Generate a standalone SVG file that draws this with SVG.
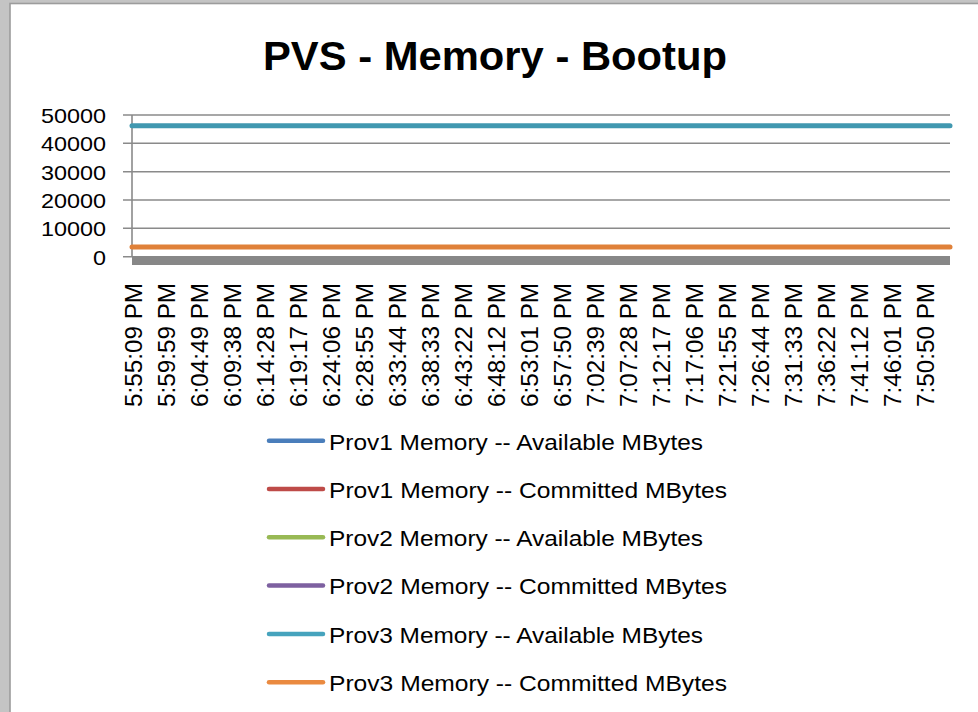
<svg xmlns="http://www.w3.org/2000/svg" width="978" height="712" viewBox="0 0 978 712">
<style>
.t{font-family:"Liberation Sans",Arial,sans-serif;fill:#000}
.ttl{font-size:41px;font-weight:bold}
.yl{font-size:21px;text-anchor:end}
.xl{font-size:23px;text-anchor:end}
.lg{font-size:21.5px}
.grid{stroke:#8a8a8a;stroke-width:1.6;fill:none}
.ser{fill:none;stroke-width:5;stroke-linecap:round}
.leg{fill:none;stroke-width:4.5;stroke-linecap:round}
</style>
<rect x="0" y="0" width="978" height="712" fill="#c4c4c4"/>
<rect x="10" y="3.5" width="990" height="730" fill="#ffffff" stroke="#9c9c9c" stroke-width="1.6"/>
<g id="title"><text class="t ttl" x="495" y="70" text-anchor="middle" textLength="464" lengthAdjust="spacingAndGlyphs">PVS - Memory - Bootup</text></g>
<g id="y-axis">
<path class="grid" d="M123 115H950M123 143.3H950M123 171.7H950M123 200H950M123 228.3H950M123 256.7H950M132 115V257"/>
<text class="t yl" x="106" y="123" textLength="65" lengthAdjust="spacingAndGlyphs">50000</text>
<text class="t yl" x="106" y="151.3" textLength="65" lengthAdjust="spacingAndGlyphs">40000</text>
<text class="t yl" x="106" y="179.7" textLength="65" lengthAdjust="spacingAndGlyphs">30000</text>
<text class="t yl" x="106" y="208" textLength="65" lengthAdjust="spacingAndGlyphs">20000</text>
<text class="t yl" x="106" y="236.3" textLength="65" lengthAdjust="spacingAndGlyphs">10000</text>
<text class="t yl" x="106" y="264.7" textLength="13" lengthAdjust="spacingAndGlyphs">0</text>
</g>
<g id="series">
<path class="ser" stroke="#4198b0" d="M132 125.7H950"/>
<path class="ser" stroke="#e08139" d="M132 247H950"/>
<rect x="132" y="256" width="818" height="9" fill="#878787"/>
</g>
<g id="x-axis">
<text class="t xl" transform="translate(141.5,283) rotate(-90)" textLength="124" lengthAdjust="spacingAndGlyphs">5:55:09 PM</text>
<text class="t xl" transform="translate(174.5,283) rotate(-90)" textLength="124" lengthAdjust="spacingAndGlyphs">5:59:59 PM</text>
<text class="t xl" transform="translate(207.5,283) rotate(-90)" textLength="124" lengthAdjust="spacingAndGlyphs">6:04:49 PM</text>
<text class="t xl" transform="translate(240.5,283) rotate(-90)" textLength="124" lengthAdjust="spacingAndGlyphs">6:09:38 PM</text>
<text class="t xl" transform="translate(273.5,283) rotate(-90)" textLength="124" lengthAdjust="spacingAndGlyphs">6:14:28 PM</text>
<text class="t xl" transform="translate(306.5,283) rotate(-90)" textLength="124" lengthAdjust="spacingAndGlyphs">6:19:17 PM</text>
<text class="t xl" transform="translate(339.5,283) rotate(-90)" textLength="124" lengthAdjust="spacingAndGlyphs">6:24:06 PM</text>
<text class="t xl" transform="translate(372.5,283) rotate(-90)" textLength="124" lengthAdjust="spacingAndGlyphs">6:28:55 PM</text>
<text class="t xl" transform="translate(405.5,283) rotate(-90)" textLength="124" lengthAdjust="spacingAndGlyphs">6:33:44 PM</text>
<text class="t xl" transform="translate(438.5,283) rotate(-90)" textLength="124" lengthAdjust="spacingAndGlyphs">6:38:33 PM</text>
<text class="t xl" transform="translate(471.5,283) rotate(-90)" textLength="124" lengthAdjust="spacingAndGlyphs">6:43:22 PM</text>
<text class="t xl" transform="translate(504.5,283) rotate(-90)" textLength="124" lengthAdjust="spacingAndGlyphs">6:48:12 PM</text>
<text class="t xl" transform="translate(537.5,283) rotate(-90)" textLength="124" lengthAdjust="spacingAndGlyphs">6:53:01 PM</text>
<text class="t xl" transform="translate(570.5,283) rotate(-90)" textLength="124" lengthAdjust="spacingAndGlyphs">6:57:50 PM</text>
<text class="t xl" transform="translate(603.5,283) rotate(-90)" textLength="124" lengthAdjust="spacingAndGlyphs">7:02:39 PM</text>
<text class="t xl" transform="translate(636.5,283) rotate(-90)" textLength="124" lengthAdjust="spacingAndGlyphs">7:07:28 PM</text>
<text class="t xl" transform="translate(669.5,283) rotate(-90)" textLength="124" lengthAdjust="spacingAndGlyphs">7:12:17 PM</text>
<text class="t xl" transform="translate(702.5,283) rotate(-90)" textLength="124" lengthAdjust="spacingAndGlyphs">7:17:06 PM</text>
<text class="t xl" transform="translate(735.5,283) rotate(-90)" textLength="124" lengthAdjust="spacingAndGlyphs">7:21:55 PM</text>
<text class="t xl" transform="translate(768.5,283) rotate(-90)" textLength="124" lengthAdjust="spacingAndGlyphs">7:26:44 PM</text>
<text class="t xl" transform="translate(801.5,283) rotate(-90)" textLength="124" lengthAdjust="spacingAndGlyphs">7:31:33 PM</text>
<text class="t xl" transform="translate(834.5,283) rotate(-90)" textLength="124" lengthAdjust="spacingAndGlyphs">7:36:22 PM</text>
<text class="t xl" transform="translate(867.5,283) rotate(-90)" textLength="124" lengthAdjust="spacingAndGlyphs">7:41:12 PM</text>
<text class="t xl" transform="translate(900.5,283) rotate(-90)" textLength="124" lengthAdjust="spacingAndGlyphs">7:46:01 PM</text>
<text class="t xl" transform="translate(933.5,283) rotate(-90)" textLength="124" lengthAdjust="spacingAndGlyphs">7:50:50 PM</text>
</g>
<g id="legend">
<g id="leg1"><path class="leg" stroke="#4a7ebb" d="M269 440.7H323"/><text class="t lg" x="329" y="449.5" textLength="374" lengthAdjust="spacingAndGlyphs">Prov1 Memory -- Available MBytes</text></g>
<g id="leg2"><path class="leg" stroke="#be4b48" d="M269 489H323"/><text class="t lg" x="329" y="497.8" textLength="398" lengthAdjust="spacingAndGlyphs">Prov1 Memory -- Committed MBytes</text></g>
<g id="leg3"><path class="leg" stroke="#98b954" d="M269 537.3H323"/><text class="t lg" x="329" y="546.1" textLength="374" lengthAdjust="spacingAndGlyphs">Prov2 Memory -- Available MBytes</text></g>
<g id="leg4"><path class="leg" stroke="#7d60a0" d="M269 585.6H323"/><text class="t lg" x="329" y="594.4" textLength="398" lengthAdjust="spacingAndGlyphs">Prov2 Memory -- Committed MBytes</text></g>
<g id="leg5"><path class="leg" stroke="#46a3bd" d="M269 633.9H323"/><text class="t lg" x="329" y="642.7" textLength="374" lengthAdjust="spacingAndGlyphs">Prov3 Memory -- Available MBytes</text></g>
<g id="leg6"><path class="leg" stroke="#ea8a40" d="M269 682.2H323"/><text class="t lg" x="329" y="691" textLength="398" lengthAdjust="spacingAndGlyphs">Prov3 Memory -- Committed MBytes</text></g>
</g>
</svg>
